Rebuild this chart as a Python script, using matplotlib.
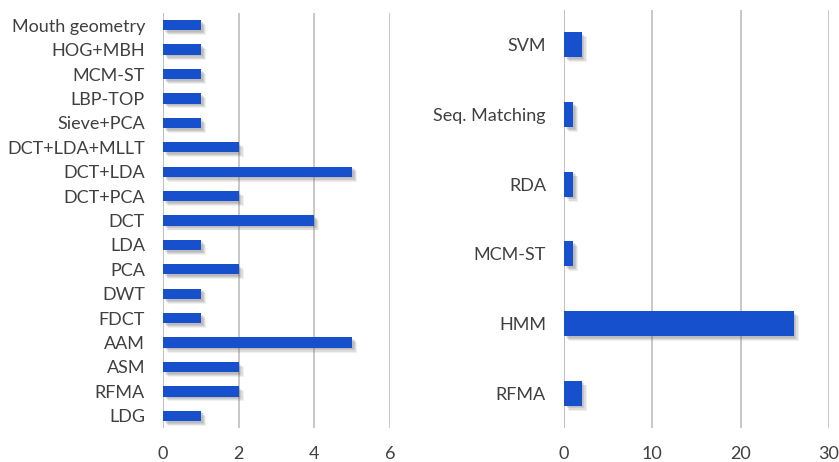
import matplotlib.pyplot as plt
import matplotlib.patheffects as pe

# feature extraction methods (top to bottom)
feat_labels = ["Mouth geometry", "HOG+MBH", "MCM-ST", "LBP-TOP", "Sieve+PCA",
               "DCT+LDA+MLLT", "DCT+LDA", "DCT+PCA", "DCT", "LDA", "PCA",
               "DWT", "FDCT", "AAM", "ASM", "RFMA", "LDG"]
feat_counts = [1, 1, 1, 1, 1, 2, 5, 2, 4, 1, 2, 1, 1, 5, 2, 2, 1]

# classification methods (top to bottom)
clf_labels = ["SVM", "Seq. Matching", "RDA", "MCM-ST", "HMM", "RFMA"]
clf_counts = [2, 1, 1, 1, 26, 2]

BAR_COLOR = "#1750CC"
GRID_COLOR = "#BFBFBF"
TEXT_COLOR = "#404040"

plt.rcParams["font.family"] = ["Lato", "DejaVu Sans"]

fig = plt.figure(figsize=(8.39, 4.62), dpi=100)
ax1 = fig.add_axes([163 / 839, 34 / 462, 227 / 839, 415 / 462])
ax2 = fig.add_axes([564 / 839, 34 / 462, 265 / 839, 418 / 462])

# soft drop shadow built from a few faint offset copies
shadow = [pe.SimplePatchShadow(offset=(o, -o), shadow_rgbFace="#707070", alpha=a)
          for o, a in [(3.5, 0.10), (2.8, 0.14), (2.0, 0.18), (1.2, 0.15)]]
shadow.append(pe.Normal())


def draw_panel(ax, labels, counts, height, xmax, step):
    ypos = list(range(len(labels)))[::-1]
    bars = ax.barh(ypos, counts, height=height, color=BAR_COLOR, zorder=3)
    for b in bars:
        b.set_path_effects(shadow)
    ax.set_yticks(ypos)
    ax.set_yticklabels(labels)
    ax.set_ylim(-0.5, len(labels) - 0.5)
    ax.set_xlim(0, xmax)
    ax.set_xticks(range(0, xmax + 1, step))
    ax.grid(axis="x", color=GRID_COLOR, linewidth=1.2, zorder=0)
    ax.axvline(0, color=GRID_COLOR, linewidth=1.2, zorder=1)
    for s in ax.spines.values():
        s.set_visible(False)
    ax.tick_params(length=0, labelsize=13, labelcolor=TEXT_COLOR)
    ax.tick_params(axis="x", pad=13)
    ax.tick_params(axis="y", pad=13)


draw_panel(ax1, feat_labels, feat_counts, 0.42, 6, 2)
draw_panel(ax2, clf_labels, clf_counts, 0.36, 30, 10)

fig.savefig("out.png", dpi=100)
